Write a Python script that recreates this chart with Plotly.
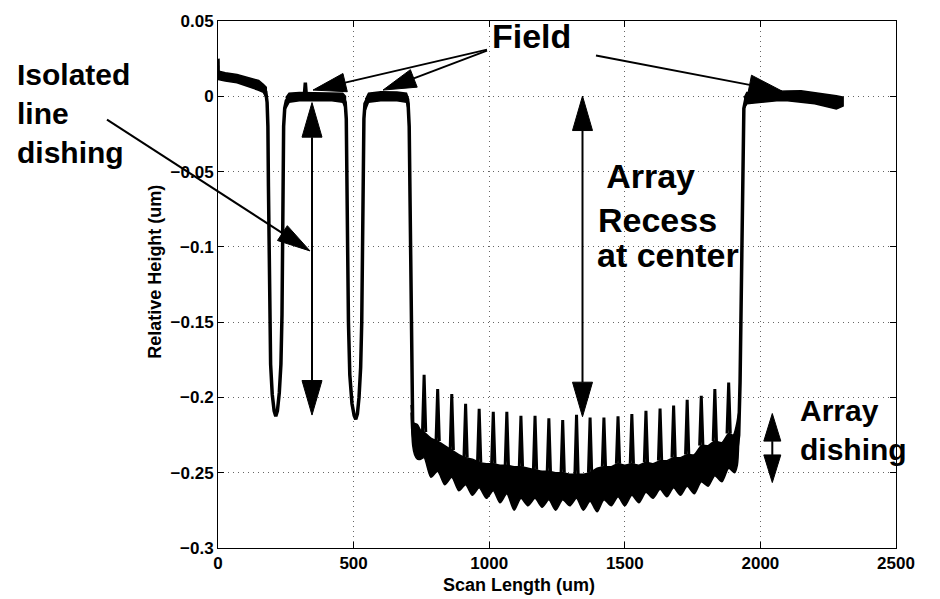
import plotly.graph_objects as go

# ---------------- data ----------------
X_TICKS = [0, 500, 1000, 1500, 2000, 2500]
X_TICK_TEXT = ["0", "500", "1000", "1500", "2000", "2500"]
Y_TICKS = [-0.3, -0.25, -0.2, -0.15, -0.1, -0.05, 0, 0.05]
Y_TICK_TEXT = ["\u22120.3", "\u22120.25", "\u22120.2", "\u22120.15", "\u22120.1", "\u22120.05", "0", "0.05"]

# centre line of the profile (walls, trenches, field centres); None = break
PROFILE_X = [0, 1, None,
             3, 30, 70, 118, 150, 167, 176, 181, 184, 186, 188, 190, 194, 200, 207, 213,
             219, 226, 232, 236, 238, 240, 242, 246, 252, 262, 300, 318, 322, 326, 380, 440,
             462, 469, 473, 476, 478, 481, 486, 494, 502, 508, 514, 520, 526, 530, 533, 535,
             538, 542, 550, 560, 620, 680, 695, 701, 705, 708, 711, 714, 718, 724, 735, None,
             1912, 1920, 1925, 1929, 1933, 1936, 1939, 1946, 1955]
PROFILE_Y = [0.025, 0.012, None,
             0.014, 0.013, 0.0118, 0.0093, 0.0072, 0.0053, 0.003, -0.004, -0.02, -0.06, -0.11, -0.145, -0.178, -0.198, -0.209, -0.2125,
             -0.209, -0.197, -0.178, -0.145, -0.11, -0.06, -0.02, -0.008, -0.003, -0.0008, -0.0003, -0.0003, 0.009, -0.0003, -0.0003, -0.0003,
             -0.001, -0.004, -0.015, -0.05, -0.1, -0.15, -0.185, -0.204, -0.212, -0.2145, -0.211, -0.2, -0.18, -0.15, -0.1, -0.05,
             -0.015, -0.005, -0.002, -0.0003, -0.0003, -0.0003, -0.001, -0.005, -0.02, -0.07, -0.15, -0.2, -0.221, -0.23, -0.232, None,
             -0.236, -0.225, -0.19, -0.13, -0.07, -0.025, -0.008, -0.002, -0.0008]

# noisy field plateaus: upper / lower edges of the band
FIELD1_UP_X = [0, 27, 70, 118, 150, 167, 178]
FIELD1_UP_Y = [0.0168, 0.0157, 0.0145, 0.0124, 0.0105, 0.008, 0.006]
FIELD1_LO_X = [0, 27, 70, 118, 150, 167, 178]
FIELD1_LO_Y = [0.0112, 0.0102, 0.009, 0.0062, 0.004, 0.0026, -0.001]

FIELD2_UP_X = [250, 262, 300, 360, 420, 460, 470]
FIELD2_UP_Y = [-0.001, 0.002, 0.0025, 0.0025, 0.0025, 0.002, 0.0]
FIELD2_LO_X = [250, 262, 300, 360, 420, 460, 470]
FIELD2_LO_Y = [-0.008, -0.004, -0.003, -0.003, -0.003, -0.004, -0.008]

FIELD3_UP_X = [544, 555, 600, 660, 695, 703]
FIELD3_UP_Y = [-0.002, 0.002, 0.003, 0.0028, 0.002, -0.002]
FIELD3_LO_X = [544, 555, 600, 660, 695, 703]
FIELD3_LO_Y = [-0.009, -0.004, -0.003, -0.003, -0.004, -0.01]

FIELD4_UP_X = [1940, 1950, 2000, 2060, 2100, 2150, 2200, 2250, 2280, 2305]
FIELD4_UP_Y = [-0.001, 0.0026, 0.003, 0.003, 0.0035, 0.0037, 0.0026, 0.0015, 0.0004, -0.0005]
FIELD4_LO_X = [1940, 1950, 2000, 2060, 2100, 2150, 2200, 2250, 2280, 2305]
FIELD4_LO_Y = [-0.008, -0.005, -0.004, -0.003, -0.003, -0.004, -0.005, -0.0073, -0.0084, -0.0065]

# array region band (between the spikes)
ARRAY_UP_X = [712, 716, 722, 735, 748, 760, 785, 810, 836, 862, 888, 913, 938, 963, 990, 1015, 1040,
              1065, 1092, 1117, 1143, 1169, 1195, 1220, 1245, 1271, 1297, 1322, 1347, 1372, 1398,
              1423, 1450, 1475, 1500, 1526, 1552, 1578, 1604, 1630, 1655, 1680, 1705, 1730, 1756,
              1782, 1807, 1832, 1858, 1883, 1900, 1912, 1920]
ARRAY_UP_Y = [-0.205, -0.213, -0.217, -0.218, -0.222, -0.223, -0.227, -0.229, -0.232, -0.235, -0.238,
              -0.240, -0.241, -0.243, -0.244, -0.244, -0.245, -0.245, -0.246, -0.246, -0.247, -0.248,
              -0.249, -0.249, -0.250, -0.250, -0.251, -0.251, -0.251, -0.250, -0.247, -0.246, -0.246,
              -0.244, -0.245, -0.244, -0.245, -0.243, -0.244, -0.242, -0.242, -0.240, -0.240, -0.238,
              -0.238, -0.232, -0.232, -0.229, -0.230, -0.224, -0.225, -0.218, -0.21]
ARRAY_LO_X = [712, 718, 725, 735, 748, 760, 785, 810, 836, 862, 888, 913, 938, 963, 990, 1015, 1040,
              1065, 1092, 1117, 1143, 1169, 1195, 1220, 1245, 1271, 1297, 1322, 1347, 1372, 1398,
              1423, 1450, 1475, 1500, 1526, 1552, 1578, 1604, 1630, 1655, 1680, 1705, 1730, 1756,
              1782, 1807, 1832, 1858, 1883, 1905, 1915, 1920]
ARRAY_LO_Y = [-0.21, -0.232, -0.238, -0.241, -0.241, -0.240, -0.253, -0.249, -0.258, -0.253, -0.262,
              -0.258, -0.265, -0.260, -0.267, -0.262, -0.270, -0.264, -0.275, -0.267, -0.272, -0.267,
              -0.273, -0.268, -0.275, -0.268, -0.272, -0.267, -0.275, -0.269, -0.276, -0.268, -0.272,
              -0.266, -0.272, -0.265, -0.270, -0.263, -0.267, -0.261, -0.266, -0.260, -0.265, -0.259,
              -0.264, -0.256, -0.259, -0.252, -0.256, -0.247, -0.250, -0.245, -0.23]

# periodic spikes in the array
SPIKE_X = [760, 810, 862, 913, 963, 1015, 1065, 1117, 1169, 1220, 1271, 1322, 1372, 1423,
           1475, 1526, 1578, 1630, 1680, 1730, 1782, 1832, 1883]
SPIKE_TOP = [-0.185, -0.1945, -0.1977, -0.2043, -0.2076, -0.2095, -0.2095, -0.2122, -0.2122,
             -0.2139, -0.215, -0.2115, -0.2133, -0.2133, -0.2126, -0.2111, -0.2089, -0.2074,
             -0.2054, -0.2015, -0.199, -0.1945, -0.1901]

# ---------------- figure ----------------
PL, PR, PT, PB = 218, 896, 14, 548   # plot area in pixels
FONT = "Liberation Sans, Arial, Helvetica, sans-serif"

fig = go.Figure()


def band(ux, uy, lx, ly, shape="linear"):
    fig.add_trace(go.Scatter(x=list(ux) + list(lx)[::-1], y=list(uy) + list(ly)[::-1],
                             mode="lines", fill="toself", fillcolor="black",
                             line=dict(color="black", width=1.5, shape=shape, smoothing=0.7),
                             hoverinfo="skip"))


band(FIELD1_UP_X, FIELD1_UP_Y, FIELD1_LO_X, FIELD1_LO_Y)
band(FIELD2_UP_X, FIELD2_UP_Y, FIELD2_LO_X, FIELD2_LO_Y)
band(FIELD3_UP_X, FIELD3_UP_Y, FIELD3_LO_X, FIELD3_LO_Y)
band(FIELD4_UP_X, FIELD4_UP_Y, FIELD4_LO_X, FIELD4_LO_Y)
band(ARRAY_UP_X, ARRAY_UP_Y, ARRAY_LO_X, ARRAY_LO_Y, shape="spline")

fig.add_trace(go.Scatter(x=PROFILE_X, y=PROFILE_Y, mode="lines",
                         line=dict(color="black", width=3.5), hoverinfo="skip"))

base_lookup = dict(zip(ARRAY_UP_X, ARRAY_UP_Y))
sx, sy = [], []
for s, top in zip(SPIKE_X, SPIKE_TOP):
    b = base_lookup[s]
    sx += [s - 6, s, s + 6, None]
    sy += [b, top, b, None]
fig.add_trace(go.Scatter(x=sx, y=sy, mode="lines",
                         line=dict(color="black", width=3), hoverinfo="skip"))


# ---------------- annotations (pixel positions -> paper) ----------------
def P(px, py):
    return (px - PL) / (PR - PL), (PB - py) / (PB - PT)


shapes = []


def head(tail, tip, L, Wd):
    dx, dy = tip[0] - tail[0], tip[1] - tail[1]
    n = (dx * dx + dy * dy) ** 0.5
    ux, uy = dx / n, dy / n
    bx, by = tip[0] - ux * L, tip[1] - uy * L
    v1 = P(bx - uy * Wd, by + ux * Wd)
    v2 = P(bx + uy * Wd, by - ux * Wd)
    t = P(*tip)
    shapes.append(dict(type="path", xref="paper", yref="paper",
                       path=f"M {t[0]},{t[1]} L {v1[0]},{v1[1]} L {v2[0]},{v2[1]} Z",
                       fillcolor="black", line=dict(color="black", width=1)))
    return (bx, by)


def line(a, b, w=2):
    pa, pb = P(*a), P(*b)
    shapes.append(dict(type="line", xref="paper", yref="paper", x0=pa[0], y0=pa[1],
                       x1=pb[0], y1=pb[1], line=dict(color="black", width=w)))


SINGLE_ARROWS = [((107, 114), (310, 247), 33, 9),
                 ((487, 43), (313, 84), 33, 9.5),
                 ((487, 44), (383, 84), 33, 9.5),
                 ((596, 49), (782, 85), 33, 10)]
DOUBLE_ARROWS = [(312, 96.7, 413.3, 35, 10),
                 (582.5, 90, 415, 35, 10),
                 (772.3, 411.7, 481.7, 28, 8.5)]

for tail, tip, L, Wd in SINGLE_ARROWS:
    b = head(tail, tip, L, Wd)
    line(tail, b)
for x, ytop, ybot, L, Wd in DOUBLE_ARROWS:
    b1 = head((x, ybot), (x, ytop), L, Wd)
    b2 = head((x, ytop), (x, ybot), L, Wd)
    line(b1, b2)

annots = []
# single-line labels: (text, left px, baseline px, size)
TEXTS = [("Field", 491, 46, 34),
         (" Array", 597, 188.3, 34), ("Recess", 597, 233.3, 34), ("at center", 596, 268.3, 34)]
for txt, px, py, sz in TEXTS:
    ax_, ay_ = P(px, py + 3)
    annots.append(dict(text=txt, x=ax_, y=ay_, xref="paper", yref="paper", xanchor="left",
                       yanchor="bottom", showarrow=False, borderpad=0,
                       font=dict(family=FONT, size=sz, color="black", weight="bold")))
# stacked labels: (text, left px, top px, size)
BLOCKS = [("Isolated<br>line<br>dishing", 16, 50, 30),
          ("Array<br>dishing", 799, 391, 30)]
for txt, px, py, sz in BLOCKS:
    ax_, ay_ = P(px, py)
    annots.append(dict(text=txt, x=ax_, y=ay_, xref="paper", yref="paper", xanchor="left",
                       yanchor="top", align="left", showarrow=False, borderpad=0,
                       font=dict(family=FONT, size=sz, color="black", weight="bold")))

xt = P(519, 585)
annots.append(dict(text="Scan Length (um)", x=xt[0], y=xt[1], xref="paper", yref="paper",
                   showarrow=False, xanchor="center", yanchor="middle",
                   font=dict(family=FONT, size=18, color="black", weight="bold")))
yt = P(155, 268)
annots.append(dict(text="Relative Height (um)", x=yt[0], y=yt[1], xref="paper", yref="paper",
                   showarrow=False, xanchor="center", yanchor="middle", textangle=-90,
                   font=dict(family=FONT, size=18, color="black", weight="bold")))

axis_common = dict(showline=True, linecolor="black", linewidth=1, mirror="ticks",
                   ticks="inside", ticklen=6, tickcolor="black", showgrid=True,
                   gridcolor="#666666", griddash="1px,4px", gridwidth=1, zeroline=False,
                   tickfont=dict(family=FONT, size=17, color="black", weight="bold"))

fig.update_layout(
    width=940, height=599, margin=dict(l=PL, r=940 - PR, t=PT, b=599 - PB),
    plot_bgcolor="white", paper_bgcolor="white", showlegend=False, hovermode=False,
    xaxis=dict(range=[0, 2500], tickvals=X_TICKS, ticktext=X_TICK_TEXT, **axis_common),
    yaxis=dict(range=[-0.3, 0.05], tickvals=Y_TICKS, ticktext=Y_TICK_TEXT, **axis_common),
    shapes=shapes, annotations=annots,
)

fig.write_html("out.html")
